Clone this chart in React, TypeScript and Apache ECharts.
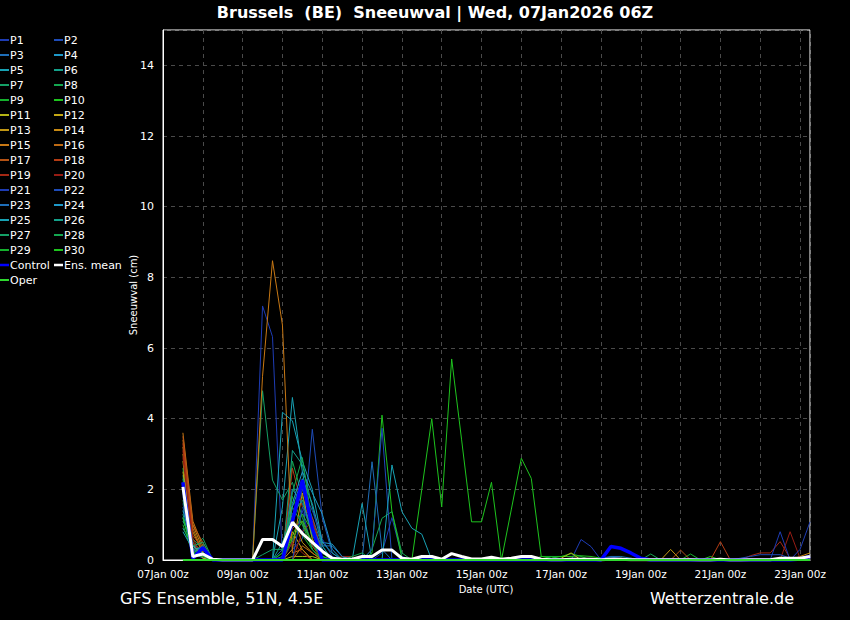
import React, { useEffect, useRef } from "react";
import * as echarts from "echarts";

// Forecast steps: hours after 07Jan2026 00z (run 06Z, first 6h sum valid 12z)
const FIRST_STEP_HOUR = 12;
const STEP_HOURS = 6;

// Member values (cm), 64 six-hourly steps: 07Jan 12z ... 23Jan 06z
const P1 = [1.8,0.3,0.1,0,0,0,0,0, 7.19,6.32,0,0.5,1.4,0.3,0,0, 0,0,0,0,0.2,1.2,0.1,0, 0,0,0,0,0,0,0,0, 0,0,0,0,0,0,0,0, 0.58,0.38,0,0,0,0,0,0, 0,0,0,0,0,0,0,0, 0,0,0,0,0,0,0,0];
const P2 = [2.0,0.2,0.05,0,0,0,0,0, 0,0,0,0.3,0.6,3.7,1.2,0.2, 0,0,0,0,0,0,0,0, 0,0,0,0,0,0,0,0, 0,0,0,0,0,0,0,0, 0,0,0.05,0.08,0.05,0,0,0, 0,0,0,0,0,0,0,0, 0,0,0,0,0,0,0,0];
const P3 = [1.5,0.3,0.2,0,0,0,0,0, 0,0,0.3,2.0,2.0,1.2,0.4,0, 0,0,0,2.78,0.3,0,0,0, 0,0,0,0,0,0,0,0, 0,0,0,0,0,0,0,0, 0,0,0,0,0,0,0,0, 0,0,0,0,0,0,0,0, 0,0,0,0,0,0,0,0];
const P4 = [1.2,0.2,0.1,0,0,0,0,0, 0,0,0,1.5,2.3,1.6,0.5,0.45, 0.1,0,0,0,0,0,0,0, 0,0,0,0,0,0,0,0, 0,0,0,0,0,0,0,0, 0,0,0,0,0,0,0,0, 0,0,0,0,0,0,0,0, 0,0,0,0,0,0,0,0];
const P5 = [0.9,0.4,0.3,0,0,0,0,0, 0,0,1.5,4.6,2.5,1.0,0.3,0, 0,0,1.6,0,0,0,0,0, 0,0,0,0,0,0,0,0, 0,0,0,0,0,0,0,0, 0,0,0,0,0,0,0,0, 0,0,0,0,0,0,0,0, 0,0,0,0,0,0,0,0];
const P6 = [1.1,0.5,0.2,0,0,0,0,0, 0,0,0,3.1,2.7,1.5,0.4,0, 0,0,0,0,0,0,0,0, 0,0,0,0,0,0,0,0, 0,0,0,0,0,0,0,0, 0,0,0,0,0,0,0,0, 0,0,0,0,0,0,0,0, 0,0,0,0,0,0,0,0];
const P7 = [2.4,0.3,0.62,0,0,0,0,0, 4.79,2.26,1.7,2.2,1.2,0.4,0.1,0, 0,0,0,0,0,0,0,0, 0,0,0,0,0,0,0,0, 0,0,0,0,0,0,0,0, 0,0,0,0,0,0.05,0,0, 0,0,0,0,0,0,0,0, 0,0,0,0,0,0,0,0];
const P8 = [2.6,0.6,0.3,0,0,0,0,0, 0,0,0,2.8,1.8,0.6,0,0, 0,0,0,0.3,1.18,1.37,0.2,0, 0,0,0,0,0,0,0,0, 0,0,0,0,0,0,0,0, 0,0,0,0,0,0,0,0.17, 0,0,0,0,0,0,0,0, 0,0,0,0,0,0,0,0];
const P9 = [1.0,0.15,0.1,0,0,0,0,0, 0,0,0.2,1.8,1.0,0.3,0,0, 0,0,0,0,0,0,0,0, 0,0,0,0,0,0,0,0, 0,0,0,0,0.1,0.1,0.1,0.18, 0.1,0,0,0,0,0,0,0, 0,0,0,0.17,0,0,0,0, 0,0,0,0,0,0,0,0];
const P10 = [2.2,0.3,0.15,0,0,0,0,0, 0,0,0,0.7,1.3,0.8,0,0, 0,0,0,0.2,4.1,1.37,0.05,0, 2.0,4.0,1.5,5.69,3.4,1.08,1.08,2.2, 0,1.44,2.88,2.31,0.1,0.05,0.1,0.1, 0.12,0.1,0.05,0,0,0,0,0, 0,0,0,0,0,0.1,0,0, 0,0,0,0,0,0,0,0];
const P11 = [2.8,0.4,0.1,0,0,0,0,0, 0,0,0,0.1,0.1,0.1,0,0, 0,0,0,0,0,0,0,0, 0,0,0,0,0,0,0,0, 0,0,0,0,0,0,0.05,0.2, 0,0,0,0,0,0,0,0, 0,0,0,0,0,0,0,0, 0,0,0,0,0,0,0,0];
const P12 = [2.5,0.5,0.05,0,0,0,0,0, 0,0,0,0.8,0.3,0,0,0, 0,0,0,0,0,0,0,0, 0,0,0,0,0,0,0,0, 0,0,0,0,0,0,0,0, 0,0,0,0,0,0,0,0, 0,0,0,0,0,0,0,0, 0,0,0,0,0,0,0,0];
const P13 = [3.0,0.8,0.2,0,0,0,0,0, 0,0,0,1.2,0.5,0.2,0,0, 0,0,0,0,0,0,0,0, 0,0,0,0,0,0,0,0, 0,0,0,0,0,0,0,0, 0,0,0,0,0,0,0,0, 0,0.3,0,0,0,0,0,0, 0,0,0,0,0,0,0,0];
const P14 = [3.2,1.0,0.3,0,0,0,0,0, 0,0,0,0.3,1.9,0.6,0,0, 0,0,0,0,0,0,0,0, 0,0,0,0,0,0,0,0, 0,0,0,0,0,0,0,0, 0,0,0,0,0,0,0,0, 0,0,0,0,0,0,0,0, 0,0,0,0,0,0,0.1,0.2];
const P15 = [3.6,1.1,0.4,0,0,0,0,0, 5.2,8.47,6.65,0.2,0.3,0,0,0, 0,0,0,0,0,0,0,0, 0,0,0,0,0,0,0,0, 0,0,0,0,0,0,0,0, 0,0,0,0,0,0,0,0, 0,0,0,0,0,0,0,0, 0,0,0,0,0,0,0,0];
const P16 = [3.4,0.9,0.2,0,0,0,0,0, 0,0,0,0,0.4,0.2,0,0, 0,0,0,0,0,0,0,0, 0,0,0,0,0,0,0,0, 0,0,0,0,0,0,0,0, 0,0,0,0,0,0,0,0, 0,0,0,0,0,0,0,0, 0,0,0,0,0,0,0,0];
const P17 = [3.5,1.0,0.5,0,0,0,0,0, 0,0,0,0.9,1.1,0.4,0,0, 0,0,0,0,0,0,0,0, 0,0,0,0,0,0,0,0, 0,0,0,0,0,0,0,0, 0,0,0,0,0,0,0,0, 0,0,0.28,0,0,0,0,0, 0,0,0,0,0,0,0,0];
const P18 = [3.3,0.7,0.3,0,0,0,0,0, 0,0,0,2.6,1.5,1.2,0.2,0, 0,0,0,0,0,0,0,0, 0,0,0,0,0,0,0,0, 0,0,0,0,0,0,0,0, 0,0,0,0,0,0,0,0, 0,0,0,0,0,0,0.52,0, 0,0,0,0,0,0,0,0];
const P19 = [3.1,0.6,0.1,0,0,0,0,0, 0,0,0,0,0.8,1.1,0.2,0, 0.1,0.1,0,0,0,0,0,0, 0,0,0,0,0,0,0,0, 0,0,0,0,0,0,0,0, 0,0,0,0,0,0,0,0, 0,0,0,0,0,0,0,0, 0,0.12,0.2,0.2,0.52,0.05,0,0];
const P20 = [2.9,0.5,0.1,0,0,0,0,0, 0,0,0,0.5,0.2,0,0,0, 0,0,0,0,0,0,0,0, 0,0,0,0,0,0,0,0, 0,0,0,0,0,0,0,0, 0,0,0,0,0,0,0,0, 0,0,0,0,0,0,0,0, 0,0,0,0,0,0.8,0.05,0];
const P21 = [1.6,0.2,0.1,0,0,0,0,0, 0,0,0,1.0,2.0,1.4,0.6,0.1, 0,0,0,0,0,0,0,0, 0,0,0,0,0,0,0,0, 0,0,0,0,0,0,0,0, 0,0,0,0,0,0,0,0, 0,0,0,0,0,0,0,0, 0,0,0,0,0.8,0,0.3,1.08];
const P22 = [1.9,0.3,0.1,0,0,0,0,0, 0,0,0,0,1.5,0.8,0.3,0, 0,0,0,0.3,3.73,0,0,0, 0,0,0,0,0,0,0,0, 0,0,0,0,0,0,0,0, 0,0,0,0,0,0,0,0, 0,0,0,0,0,0,0,0, 0.05,0.1,0.15,0.15,0.15,0.05,0,0];
const P23 = [2.1,0.2,0.15,0,0,0,0,0, 0,0,0.1,2.0,1.6,0.9,0.4,0.4, 0.1,0,0,0,0,0,0,0, 0,0,0,0,0,0,0,0, 0,0,0,0,0,0,0,0, 0,0,0.05,0.1,0.1,0.05,0,0, 0,0,0,0,0,0,0,0, 0,0,0,0,0,0,0,0];
const P24 = [1.4,0.4,0.2,0,0,0,0,0, 0,0,0,1.6,2.5,1.9,1.3,0.3, 0,0,0,0,0,0,0,0, 0,0,0,0,0,0,0,0, 0,0,0,0,0,0,0,0, 0,0,0,0,0,0,0,0, 0,0,0,0,0,0,0,0, 0,0,0,0,0,0,0,0];
const P25 = [0.8,0.3,0.35,0,0,0,0,0, 0,0,4.18,3.94,2.8,2.0,0.5,0.2, 0,0,0,0,0,2.69,1.37,0.9, 0.73,0,0,0,0,0,0,0, 0,0,0,0,0,0,0,0, 0,0,0,0,0,0,0,0, 0,0,0,0,0,0,0,0, 0,0,0,0,0,0,0,0];
const P26 = [1.3,0.2,0.4,0,0,0,0,0, 0,0,0.5,1.3,1.7,0.7,0.2,0, 0,0,0,0,0,0,0,0, 0,0,0,0,0,0,0,0, 0,0,0,0,0,0,0,0, 0,0,0,0,0,0,0,0, 0,0,0,0,0,0,0,0, 0,0,0,0,0,0,0,0];
const P27 = [2.3,0.4,0.5,0,0,0,0,0, 0.15,0.3,0.3,1.5,1.0,0.5,0,0, 0,0,0,0,0,0,0,0, 0,0,0,0,0,0,0,0, 0,0,0,0,0,0,0,0, 0,0,0,0,0.05,0,0,0, 0,0,0,0,0,0,0,0, 0,0,0,0,0,0,0,0];
const P28 = [1.7,0.2,0.3,0,0,0,0,0, 0,0,0,1.9,2.9,1.0,0.2,0, 0,0.1,0.2,0,0,0,0,0, 0,0,0,0,0,0,0,0, 0,0,0,0,0,0,0,0, 0,0,0,0,0,0,0,0, 0,0,0,0,0,0,0,0, 0,0,0,0,0,0,0,0];
const P29 = [2.0,0.1,0.2,0,0,0,0,0, 0,0,0.2,1.1,0.7,0.3,0,0, 0,0,0,0,0,0,0,0, 0,0,0,0,0,0,0,0, 0,0,0,0,0,0.1,0,0, 0,0,0,0,0,0,0,0, 0,0,0,0,0,0,0,0, 0,0,0,0,0,0,0,0];
const P30 = [1.2,0.2,0.1,0,0,0,0,0, 0,0,0,0.6,1.1,0.5,0.1,0, 0,0,0,0,0,0,0,0, 0,0,0,0,0,0,0,0, 0,0,0,0,0,0,0,0, 0,0,0,0,0,0,0,0, 0,0,0,0,0,0,0,0, 0,0,0,0,0,0,0,0];

const CONTROL = [2.2,0.05,0.35,0,0,0,0,0, 0,0,0,1.1,2.26,0.9,0,0, 0,0,0,0,0,0,0,0, 0,0,0,0,0,0,0,0, 0,0,0,0,0,0,0,0, 0,0,0,0.38,0.33,0.2,0.05,0, 0,0,0,0,0,0,0,0, 0,0,0,0,0,0,0.03,0.1];
const ENS_MEAN = [2.07,0.1,0.17,0.02,0,0,0,0, 0.58,0.58,0.38,1.07,0.75,0.5,0.25,0.05, 0.02,0.02,0.1,0.1,0.28,0.28,0.05,0.02, 0.1,0.1,0.02,0.18,0.1,0.03,0.03,0.08, 0.02,0.05,0.1,0.1,0.02,0.01,0.01,0.02, 0.02,0.02,0.01,0.02,0.02,0.01,0.01,0.01, 0.01,0.01,0.01,0.01,0,0,0.02,0, 0,0.01,0.01,0.01,0.05,0.05,0.05,0.1];
const OPER = [0,0,0,0,0,0,0,0, 0,0,0,0,0,0,0,0, 0,0,0,0,0,0,0,0, 0,0,0,0,0,0,0,0, 0,0,0,0,0,0,0,0, 0,0,0,0,0,0,0,0, 0,0,0,0,0,0,0,0, 0,0,0,0,0,0,0,0];

const MEMBERS = [P1,P2,P3,P4,P5,P6,P7,P8,P9,P10,P11,P12,P13,P14,P15,P16,P17,P18,P19,P20,P21,P22,P23,P24,P25,P26,P27,P28,P29,P30];
const MEMBER_COLORS = [
  "#1e3cb4", "#1e4cb8", "#1e6eb8", "#1e98c8", "#18a2b4",
  "#14a08a", "#14a066", "#14a650", "#14b02c", "#1ec41e",
  "#b4b414", "#c4a814", "#c09614", "#c88a14", "#c87814",
  "#be6a14", "#b45214", "#b43c14", "#a42814", "#961c14",
];
const CONTROL_COLOR = "#0000ff";
const MEAN_COLOR = "#ffffff";
const OPER_COLOR = "#2ed82e";

const TITLE = "Brussels  (BE)  Sneeuwval | Wed, 07Jan2026 06Z";
const FOOT_LEFT = "GFS Ensemble, 51N, 4.5E";
const FOOT_RIGHT = "Wetterzentrale.de";
const X_NAME = "Date (UTC)";
const Y_NAME = "Sneeuwval (cm)";
const MONTH = "Jan";
const START_DAY = 7;
const X_MAX_HOURS = 390;
const Y_MAX = 15;

const FONT = "DejaVu Sans";

function toPairs(values: number[]) {
  return values.map((v, i) => [FIRST_STEP_HOUR + STEP_HOURS * i, v]);
}

function buildOption() {
  const memberSeries = MEMBERS.map((d, k) => ({
    name: `P${k + 1}`,
    type: "line",
    data: toPairs(d),
    symbol: "none",
    showSymbol: false,
    silent: true,
    lineStyle: { width: 1, color: MEMBER_COLORS[k % 20] },
    itemStyle: { color: MEMBER_COLORS[k % 20] },
    z: 2,
  }));
  const extra = [
    { name: "Control", data: CONTROL, color: CONTROL_COLOR, width: 3.5 },
    { name: "Ens. mean", data: ENS_MEAN, color: MEAN_COLOR, width: 3 },
    { name: "Oper", data: OPER, color: OPER_COLOR, width: 2 },
  ].map((s, k) => ({
    name: s.name,
    type: "line",
    data: toPairs(s.data),
    symbol: "none",
    showSymbol: false,
    silent: true,
    lineStyle: { width: s.width, color: s.color },
    itemStyle: { color: s.color },
    z: 3 + k,
  }));

  // legend (two columns)
  const legendEntries = [
    ...MEMBERS.map((_, k) => ({ name: `P${k + 1}`, color: MEMBER_COLORS[k % 20], w: 2 })),
    { name: "Control", color: CONTROL_COLOR, w: 2.5 },
    { name: "Ens. mean", color: MEAN_COLOR, w: 2.5 },
    { name: "Oper", color: OPER_COLOR, w: 2 },
  ];
  const legendEls: any[] = [];
  legendEntries.forEach((e, k) => {
    const row = Math.floor(k / 2);
    const col = k % 2;
    const y = 40 + 15 * row;
    const lx = col === 0 ? 0 : 54;
    legendEls.push({
      type: "line",
      silent: true,
      shape: { x1: lx, y1: y, x2: lx + 9, y2: y },
      style: { stroke: e.color, lineWidth: e.w },
    });
    legendEls.push({
      type: "text",
      silent: true,
      x: lx + 10,
      y,
      style: {
        text: e.name,
        fill: "#ffffff",
        fontFamily: FONT,
        fontSize: 11,
        align: "left",
        verticalAlign: "middle",
        textAlign: "left",
        textVerticalAlign: "middle",
      },
    });
  });

  const textEl = (text: string, x: number, y: number, size: number, align: string, weight = "normal", rotation = 0) => ({
    type: "text",
    silent: true,
    x,
    y,
    rotation,
    style: {
      text,
      fill: "#ffffff",
      fontFamily: FONT,
      fontSize: size,
      fontWeight: weight,
      align,
      verticalAlign: "middle",
      textAlign: align,
      textVerticalAlign: "middle",
    },
  });

  return {
    animation: false,
    backgroundColor: "#000000",
    grid: {
      left: 163,
      right: 40,
      top: 30,
      bottom: 60,
      show: true,
      borderColor: "#ffffff",
      borderWidth: 1,
      backgroundColor: "transparent",
    },
    xAxis: {
      type: "value",
      min: 0,
      max: X_MAX_HOURS,
      interval: 24,
      axisLine: { show: true, lineStyle: { color: "#ffffff", width: 1 } },
      axisTick: { show: false },
      axisLabel: {
        color: "#ffffff",
        fontFamily: FONT,
        fontSize: 10.5,
        margin: 8,
        formatter: (v: number) => {
          if (v % 48 !== 0) return "";
          const day = START_DAY + v / 24;
          return `${String(day).padStart(2, "0")}${MONTH} 00z`;
        },
      },
      splitLine: { show: true, lineStyle: { color: "#4a4a4a", width: 1, type: [4, 4] } },
    },
    yAxis: {
      type: "value",
      min: 0,
      max: Y_MAX,
      interval: 2,
      axisLine: { show: true, lineStyle: { color: "#ffffff", width: 1 } },
      axisTick: { show: false },
      axisLabel: {
        color: "#ffffff",
        fontFamily: FONT,
        fontSize: 11,
        margin: 9,
        formatter: (v: number) => (v > 14 ? "" : String(v)),
      },
      splitLine: { show: true, lineStyle: { color: "#4a4a4a", width: 1, type: [4, 4] } },
    },
    series: [...memberSeries, ...extra],
    graphic: [
      textEl(TITLE, 435, 12, 16, "center", "bold"),
      textEl(X_NAME, 486, 589, 10, "center"),
      textEl(Y_NAME, 133, 295, 10, "center", "normal", Math.PI / 2),
      textEl(FOOT_LEFT, 120, 598, 16, "left"),
      textEl(FOOT_RIGHT, 794, 598, 16, "right"),
      ...legendEls,
    ],
  };
}

export default function App() {
  const ref = useRef<HTMLDivElement>(null);
  useEffect(() => {
    if (!ref.current) return;
    const chart = echarts.init(ref.current, null, { renderer: "svg" });
    chart.setOption(buildOption() as any);
    return () => chart.dispose();
  }, []);
  return (
    <div
      ref={ref}
      style={{ position: "fixed", left: 0, top: 0, width: 850, height: 620, background: "#000" }}
    />
  );
}
